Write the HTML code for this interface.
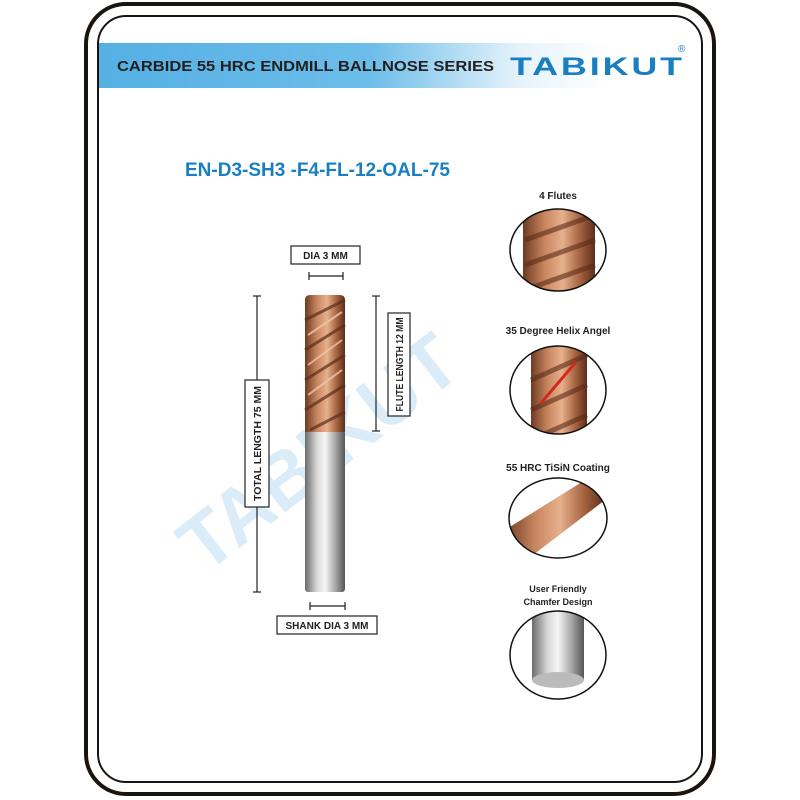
<!DOCTYPE html>
<html><head><meta charset="utf-8"><style>
html,body{margin:0;padding:0;background:#fff;}
body{width:800px;height:800px;position:relative;overflow:hidden;font-family:"Liberation Sans",sans-serif;}
</style></head><body>
<svg width="800" height="800" viewBox="0 0 800 800" xmlns="http://www.w3.org/2000/svg" style="position:absolute;left:0;top:0">
<defs>
<linearGradient id="ban" x1="0" x2="1" y1="0" y2="0">
<stop offset="0" stop-color="#55b0e4"/><stop offset="0.45" stop-color="#6cbde9"/><stop offset="0.7" stop-color="#e6f3fb"/><stop offset="0.85" stop-color="#fff"/></linearGradient>
<linearGradient id="cu" x1="0" x2="1">
<stop offset="0" stop-color="#6e3a22"/><stop offset="0.3" stop-color="#c88660"/><stop offset="0.55" stop-color="#e7b08c"/><stop offset="0.8" stop-color="#a2603e"/><stop offset="1" stop-color="#5c2f1b"/></linearGradient>
<linearGradient id="st" x1="0" x2="1">
<stop offset="0" stop-color="#6a6a6a"/><stop offset="0.3" stop-color="#d8d8d8"/><stop offset="0.5" stop-color="#f6f6f6"/><stop offset="0.75" stop-color="#aaa"/><stop offset="1" stop-color="#555"/></linearGradient>
<clipPath id="c1"><ellipse cx="558" cy="250" rx="48" ry="41"/></clipPath>
<clipPath id="c2"><ellipse cx="558" cy="390" rx="48" ry="44"/></clipPath>
<clipPath id="c3"><ellipse cx="558" cy="518" rx="49" ry="40"/></clipPath>
<clipPath id="c4"><ellipse cx="558" cy="655" rx="48" ry="44"/></clipPath>
</defs>
<rect x="86" y="4" width="628" height="790" rx="40" fill="none" stroke="#1a1410" stroke-width="4"/>
<rect x="98" y="16" width="604" height="766" rx="28" fill="none" stroke="#1a1410" stroke-width="2"/>
<rect x="99" y="43" width="602" height="45" fill="url(#ban)"/>
<text x="117" y="71" font-size="14.5" font-weight="bold" fill="#231f20" textLength="377" lengthAdjust="spacingAndGlyphs">CARBIDE 55 HRC ENDMILL BALLNOSE SERIES</text>
<text x="510" y="75" font-size="25" font-weight="bold" fill="#1a7fc0" letter-spacing="2" textLength="175" lengthAdjust="spacingAndGlyphs">TABIKUT</text>
<text x="678" y="52" font-size="10" fill="#1a7fc0">®</text>
<text x="185" y="176" font-size="19" font-weight="bold" fill="#1a7fc0">EN-D3-SH3 -F4-FL-12-OAL-75</text>
<text x="0" y="0" font-size="78" font-weight="bold" fill="#d9ecf8" transform="translate(205,575) rotate(-38)" textLength="330" lengthAdjust="spacingAndGlyphs">TABIKUT</text>
<rect x="305" y="430" width="40" height="162" rx="3" fill="url(#st)"/>
<path d="M305,300 Q305,295 310,295 L340,295 Q345,295 345,300 L345,432 L305,432 Z" fill="url(#cu)"/>
<g stroke="#5a2c18" stroke-width="3" fill="none" opacity="0.7">
<path d="M305,320 L345,300"/><path d="M305,350 L345,325"/><path d="M305,380 L345,355"/><path d="M305,410 L345,385"/><path d="M310,430 L345,412"/></g>
<g stroke="#f3c6a6" stroke-width="2" fill="none" opacity="0.8">
<path d="M308,335 L342,312"/><path d="M308,365 L342,340"/><path d="M308,395 L342,370"/></g>
<g stroke="#222" stroke-width="1.2" fill="#222">
<rect x="291" y="246" width="69" height="18" fill="#fff"/>
<line x1="309" y1="276" x2="343" y2="276"/><line x1="309" y1="272" x2="309" y2="280"/><line x1="343" y1="272" x2="343" y2="280"/>
<line x1="257" y1="296" x2="257" y2="592"/><line x1="253" y1="296" x2="261" y2="296"/><line x1="253" y1="592" x2="261" y2="592"/>
<rect x="245" y="380" width="24" height="127" fill="#fff"/>
<line x1="376" y1="296" x2="376" y2="431"/><line x1="372" y1="296" x2="380" y2="296"/><line x1="372" y1="431" x2="380" y2="431"/>
<rect x="388" y="313" width="22" height="103" fill="#fff"/>
<line x1="310" y1="606" x2="345" y2="606"/><line x1="310" y1="602" x2="310" y2="610"/><line x1="345" y1="602" x2="345" y2="610"/>
<rect x="277" y="616" width="100" height="18" fill="#fff"/>
</g>
<g font-weight="bold" fill="#231f20">
<text x="325.5" y="259" font-size="10" text-anchor="middle">DIA 3 MM</text>
<text x="327" y="629" font-size="10" text-anchor="middle">SHANK DIA 3 MM</text>
<text transform="translate(261,443.5) rotate(-90)" font-size="10" text-anchor="middle" textLength="115" lengthAdjust="spacingAndGlyphs">TOTAL LENGTH 75 MM</text>
<text transform="translate(403,364.5) rotate(-90)" font-size="10" text-anchor="middle" textLength="94" lengthAdjust="spacingAndGlyphs">FLUTE LENGTH 12 MM</text>
<text x="558" y="199" font-size="10" text-anchor="middle">4 Flutes</text>
<text x="558" y="334" font-size="10" text-anchor="middle">35 Degree Helix Angel</text>
<text x="558" y="471" font-size="10" text-anchor="middle">55 HRC TiSiN Coating</text>
<text x="558" y="592" font-size="9" text-anchor="middle">User Friendly</text>
<text x="558" y="605" font-size="9" text-anchor="middle">Chamfer Design</text>
</g>
<g clip-path="url(#c1)"><rect x="523" y="205" width="72" height="90" fill="url(#cu)"/>
<path d="M525,240 L595,215 M525,265 L595,240 M525,290 L595,265" stroke="#5a2c18" stroke-width="5" opacity="0.6"/></g>
<ellipse cx="558" cy="250" rx="48" ry="41" fill="none" stroke="#111" stroke-width="1.5"/>
<g clip-path="url(#c2)"><rect x="531" y="344" width="56" height="92" fill="url(#cu)"/>
<path d="M531,380 L587,355 M531,410 L587,385 M531,440 L587,415" stroke="#5a2c18" stroke-width="5" opacity="0.6"/></g>
<line x1="541" y1="403" x2="576" y2="362" stroke="#d42a1e" stroke-width="3"/>
<ellipse cx="558" cy="390" rx="48" ry="44" fill="none" stroke="#111" stroke-width="1.5"/>
<g clip-path="url(#c3)"><path d="M505,530 L585,480 L605,500 L520,565 Z" fill="url(#cu)"/></g>
<ellipse cx="558" cy="518" rx="49" ry="40" fill="none" stroke="#111" stroke-width="1.5"/>
<g clip-path="url(#c4)"><rect x="532" y="608" width="52" height="72" fill="url(#st)"/>
<ellipse cx="558" cy="680" rx="26" ry="8" fill="#bbb"/></g>
<ellipse cx="558" cy="655" rx="48" ry="44" fill="none" stroke="#111" stroke-width="1.5"/>
</svg>
</body></html>
